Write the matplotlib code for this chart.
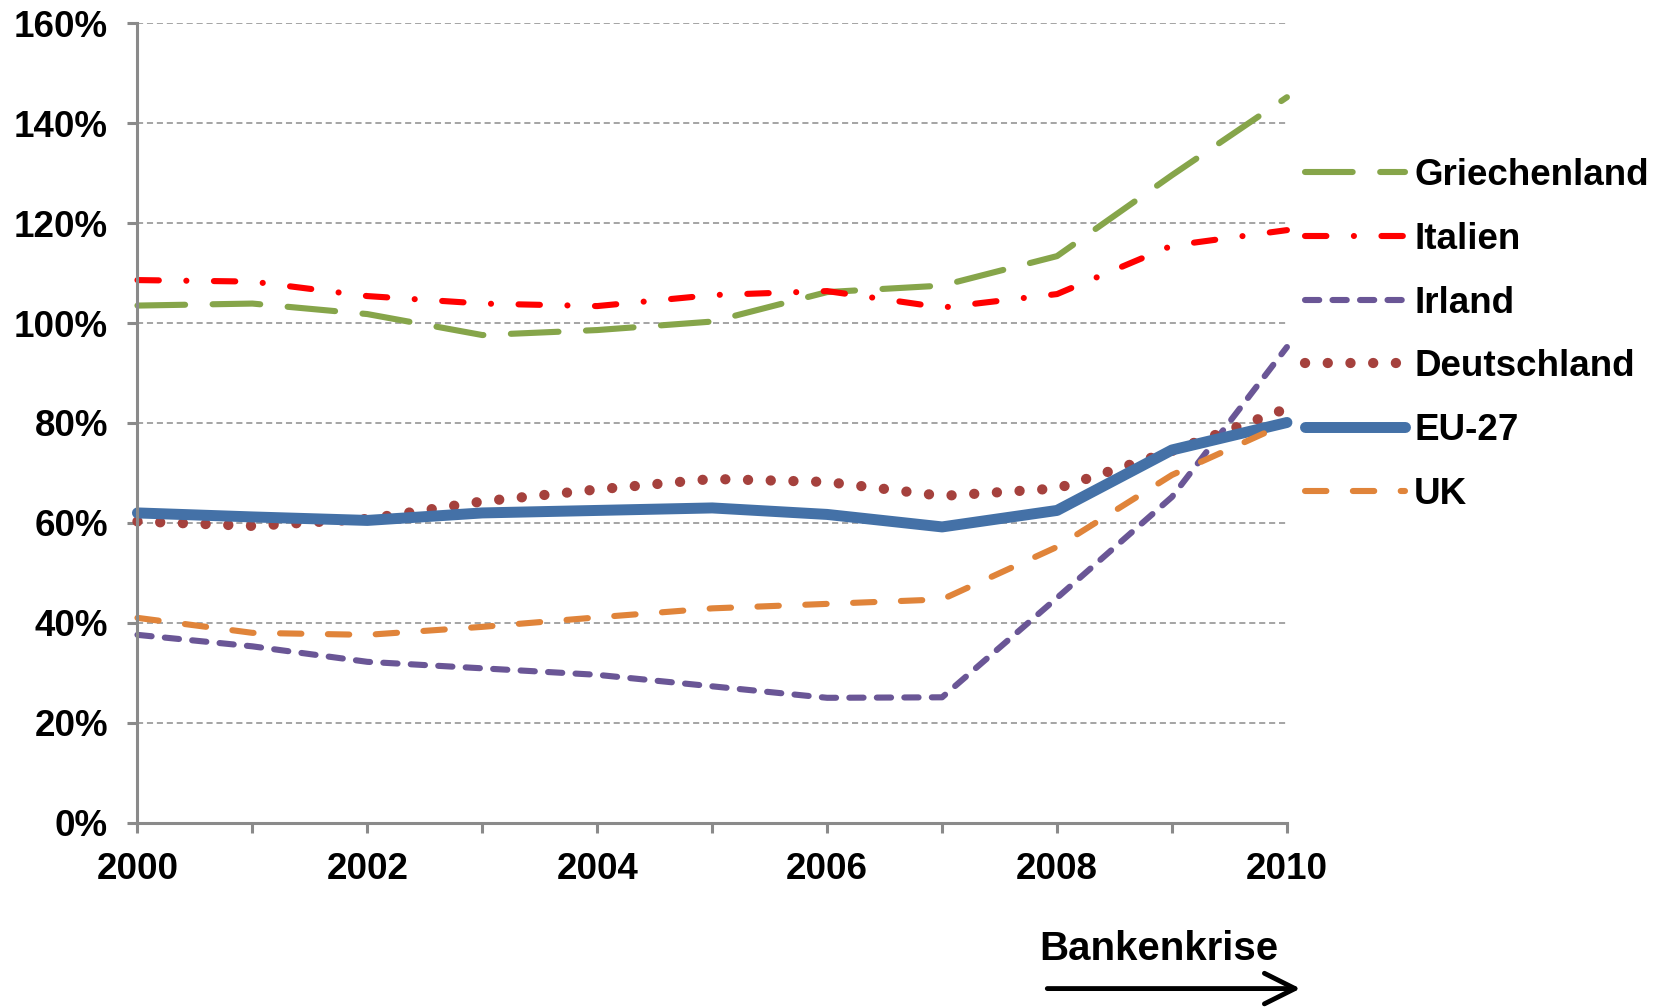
import matplotlib
matplotlib.use("Agg")
import matplotlib.pyplot as plt
from matplotlib.patches import FancyArrowPatch
from matplotlib.ticker import FuncFormatter

plt.rcParams['font.family'] = ['Liberation Sans', 'DejaVu Sans']
plt.rcParams['font.weight'] = 'bold'

years = [2000, 2001, 2002, 2003, 2004, 2005, 2006, 2007, 2008, 2009, 2010]

griechenland = [103.5, 103.9, 101.8, 97.6, 98.6, 100.3, 106.2, 107.5, 113.4, 129.6, 145.2]
italien = [108.6, 108.3, 105.4, 103.9, 103.4, 105.6, 106.4, 103.1, 105.8, 115.5, 118.6]
irland = [37.6, 35.3, 32.2, 30.9, 29.6, 27.3, 25.0, 25.1, 45.0, 65.2, 95.2]
deutschland = [60.3, 59.4, 60.8, 64.3, 66.7, 68.8, 68.2, 65.4, 66.9, 74.4, 82.9]
eu27 = [62.0, 61.2, 60.5, 62.0, 62.5, 63.0, 61.7, 59.2, 62.5, 74.6, 80.1]
uk = [41.0, 38.0, 37.6, 39.2, 41.1, 42.9, 43.8, 44.7, 55.2, 69.6, 80.0]

labels = ["Griechenland", "Italien", "Irland", "Deutschland", "EU-27", "UK"]

fig = plt.figure(figsize=(16.58, 10.07), dpi=100)
ax = fig.add_axes([0.0829, 0.183, 0.6933, 0.7939])

lw = 4.4  # dashed lines, ~6 px
ax.plot(years, griechenland, color='#86A54A', lw=lw, dashes=(7.8, 4.5),
        dash_capstyle='round', label=labels[0], clip_on=False)
ax.plot(years, italien, color='#FF0000', lw=lw, dashes=(3.5, 4.5, 0.01, 4.5),
        dash_capstyle='round', label=labels[1], clip_on=False)
ax.plot(years, irland, color='#6A5696', lw=lw, dashes=(2.33, 2.17),
        dash_capstyle='round', label=labels[2], clip_on=False)
ax.plot(years, deutschland, color='#A5413D', lw=7.4, dashes=(0.01, 2.2),
        dash_capstyle='round', label=labels[3], clip_on=False)
ax.plot(years, eu27, color='#4471A7', lw=7.9, solid_capstyle='round',
        label=labels[4], clip_on=False)
ax.plot(years, uk, color='#E0843A', lw=lw, dashes=(3.5, 4.33),
        dash_capstyle='round', label=labels[5], clip_on=False)

ax.set_xlim(2000, 2010)
ax.set_ylim(0, 160)
ax.set_xticks(range(2000, 2011, 2))
ax.set_xticks(range(2001, 2011, 2), minor=True)
ax.set_yticks(range(0, 161, 20))
ax.yaxis.set_major_formatter(FuncFormatter(lambda v, p: f"{int(v)}%"))

for s in ['top', 'right']:
    ax.spines[s].set_visible(False)
for s in ['left', 'bottom']:
    ax.spines[s].set_color('#8A8A8A')
    ax.spines[s].set_linewidth(2.2)
ax.tick_params(which='both', direction='out', length=7.2, width=2.2, color='#8A8A8A')
ax.tick_params(axis='both', which='major', labelsize=26.5, pad=14)

ax.grid(axis='y', color='#8C8C8C', lw=1.1, ls=(0, (4, 2.5)))
ax.set_axisbelow(True)

leg = ax.legend(loc='upper left', bbox_to_anchor=(0.787, 0.843), bbox_transform=fig.transFigure,
                frameon=False, fontsize=26.5, handlelength=2.72, handletextpad=0.25,
                labelspacing=0.78, borderpad=0, borderaxespad=0)

fig.text(0.699, 0.058, "Bankenkrise", fontsize=29, fontweight='bold', ha='center', va='center')
fig.add_artist(FancyArrowPatch(
    (0.630, 0.0183), (0.786, 0.0183), transform=fig.transFigure,
    arrowstyle='->,head_length=1.1,head_width=0.55', lw=3.5, color='black', mutation_scale=20))

fig.savefig("out.png", dpi=100)
